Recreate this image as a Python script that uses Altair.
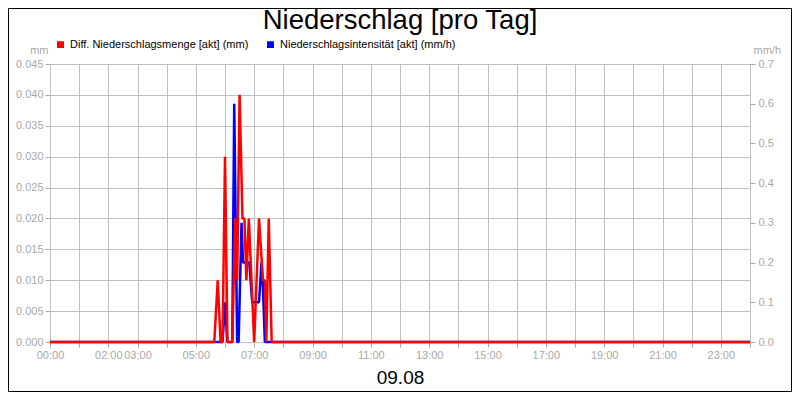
import altair as alt
import pandas as pd

RED_LABEL = "Diff. Niederschlagsmenge [akt] (mm)"
BLUE_LABEL = "Niederschlagsintensität [akt] (mm/h)"

red_times = ["00:00", "05:38", "05:45", "05:51", "05:55", "06:00", "06:05", "06:15",
             "06:21", "06:25", "06:30", "06:36", "06:40", "06:44", "06:49", "07:00",
             "07:10", "07:18", "07:22", "07:25", "07:30", "07:36", "24:00"]
red_values = [0, 0, 0.010, 0, 0, 0.030, 0, 0,
              0.020, 0.010, 0.040, 0.020, 0.020, 0.010, 0.020, 0,
              0.020, 0.010, 0.010, 0, 0.020, 0, 0]

blue_times = ["00:00", "05:55", "06:00", "06:05", "06:15", "06:19", "06:25", "06:28",
              "06:34", "06:37", "06:50", "06:56", "07:10", "07:15", "07:18", "07:22", "24:00"]
blue_values = [0, 0, 0.1, 0, 0, 0.6, 0, 0,
               0.3, 0.2, 0.2, 0.1, 0.1, 0.2, 0.14, 0, 0]

left_ticks = [0, 0.005, 0.010, 0.015, 0.020, 0.025, 0.030, 0.035, 0.040, 0.045]
right_ticks = [0, 0.1, 0.2, 0.3, 0.4, 0.5, 0.6, 0.7]
hour_ticks = list(range(25))
labeled_hours = [0, 2, 3, 5, 7, 9, 11, 13, 15, 17, 19, 21, 23]
date_label = "09.08"
title_text = "Niederschlag [pro Tag]"
series_labels = [RED_LABEL, BLUE_LABEL]
series_colors = ["#ff0000", "#0000ff"]

FONT = "Liberation Sans"
GRAY = "#a8a8a8"
LINE_W = 2.5


def to_hours(ts):
    return [int(t[:2]) + int(t[3:]) / 60 for t in ts]


red_df = pd.DataFrame({"h": to_hours(red_times), "v": red_values, "s": RED_LABEL})
blue_df = pd.DataFrame({"h": to_hours(blue_times), "v": blue_values, "s": BLUE_LABEL})

label_expr = ("indexof(" + str(labeled_hours) + ", datum.value) >= 0 ? "
              "(datum.value < 10 ? '0' : '') + datum.value + ':00' : ''")

x_enc = alt.X(
    "h:Q",
    scale=alt.Scale(domain=[0, 24], nice=False, zero=False),
    axis=alt.Axis(
        values=hour_ticks, labelExpr=label_expr, labelOverlap=False, labelFlush=False,
        grid=True, gridColor="#c0c0c0", domain=False,
        tickColor=GRAY, tickSize=5, labelColor=GRAY, labelFont=FONT, labelFontSize=11,
        labelPadding=2,
        title=date_label, titleFont=FONT, titleFontSize=19, titleFontWeight="normal",
        titleColor="black", titleX=350, titleY=41, titleAlign="center",
        titleBaseline="alphabetic",
    ),
)

# square symbol whose stroke fills the whole square
square_path = "M-1,-1H1V1H-1Z M-0.3,-0.3H0.3V0.3H-0.3Z"

color_enc = alt.Color(
    "s:N",
    scale=alt.Scale(domain=series_labels, range=series_colors),
    legend=alt.Legend(
        orient="none", legendX=5, legendY=-25, direction="horizontal", title=None,
        symbolType=square_path, symbolSize=20, symbolStrokeWidth=LINE_W,
        symbolOpacity=1, labelLimit=400,
        labelFont=FONT, labelFontSize=11,
        labelColor="black", columnPadding=14, labelOffset=4, padding=0,
    ),
)

blue = alt.Chart(blue_df).mark_line(strokeWidth=LINE_W, strokeJoin="bevel").encode(
    x=x_enc,
    y=alt.Y(
        "v:Q",
        scale=alt.Scale(domain=[0, 0.7], nice=False),
        axis=alt.Axis(
            orient="right", values=right_ticks, format=".1f", grid=False, domain=False,
            tickColor=GRAY, tickSize=5, labelColor=GRAY, labelFont=FONT, labelFontSize=11,
            labelPadding=3,
            title="mm/h", titleAngle=0, titleX=3, titleY=-11, titleAlign="left",
            titleBaseline="alphabetic", titleColor=GRAY, titleFont=FONT,
            titleFontSize=11, titleFontWeight="normal",
        ),
    ),
    color=color_enc,
)

red = alt.Chart(red_df).mark_line(strokeWidth=LINE_W, strokeJoin="bevel").encode(
    x=x_enc,
    y=alt.Y(
        "v:Q",
        scale=alt.Scale(domain=[0, 0.045], nice=False),
        axis=alt.Axis(
            orient="left", values=left_ticks, format=".3f", grid=True, gridColor="#c0c0c0",
            domain=False,
            tickColor=GRAY, tickSize=5, labelColor=GRAY, labelFont=FONT, labelFontSize=11,
            labelPadding=2,
            title="mm", titleAngle=0, titleX=-2, titleY=-11, titleAlign="right",
            titleBaseline="alphabetic", titleColor=GRAY, titleFont=FONT,
            titleFontSize=11, titleFontWeight="normal",
        ),
    ),
    color=color_enc,
)

one_row = pd.DataFrame({"a": [0]})

title_layer = alt.Chart(one_row).mark_text(
    font=FONT, fontSize=27.5, color="black", align="center", baseline="alphabetic"
).encode(x=alt.value(350), y=alt.value(-35), text=alt.value(title_text))

border = alt.Chart(one_row).mark_rect(
    fill="transparent", stroke="black", strokeWidth=1
).encode(
    x=alt.value(-41.5), x2=alt.value(741.5), y=alt.value(-55.5), y2=alt.value(327.5)
)

chart = alt.layer(blue, red, title_layer, border).resolve_scale(y="independent").properties(
    width=700, height=278,
    autosize=alt.AutoSizeParams(type="none"),
    padding={"left": 42, "top": 56, "right": 42, "bottom": 50},
).configure_view(stroke="black", strokeWidth=1).configure(background="white")

chart.save("out.html", embed_options={"renderer": "svg", "actions": False})
